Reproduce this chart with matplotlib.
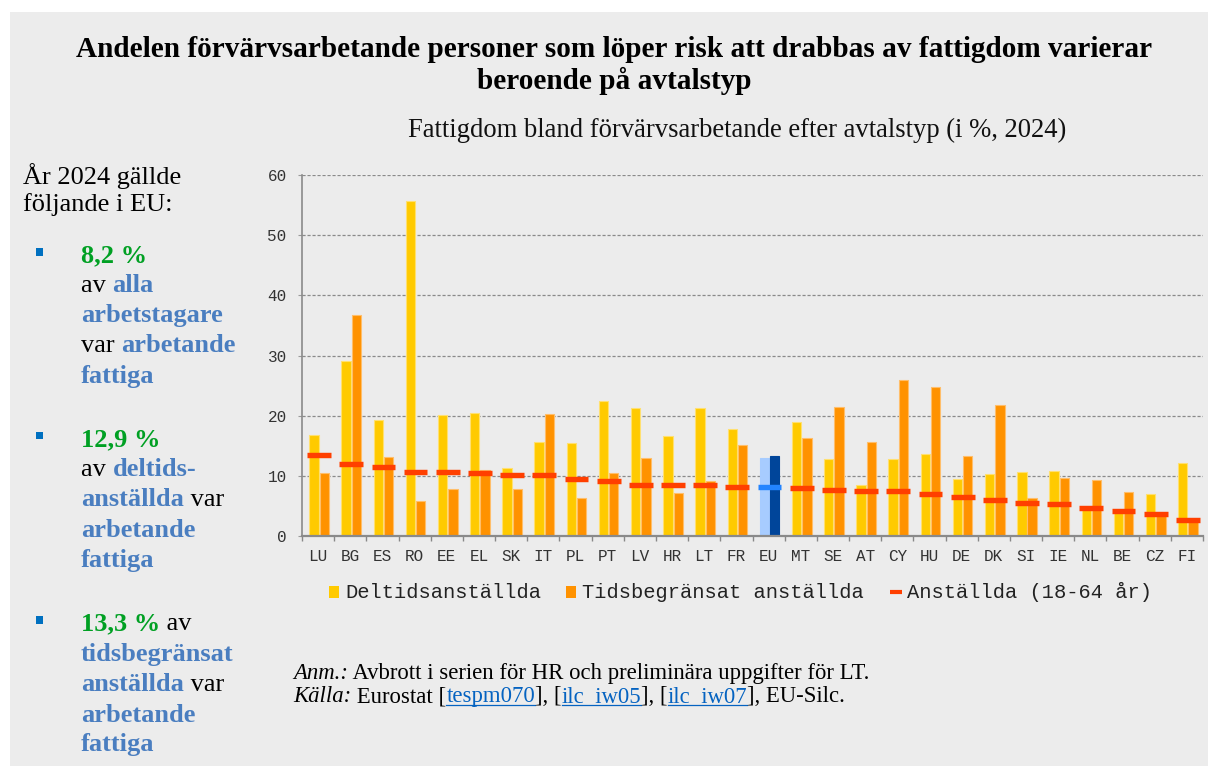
import matplotlib
matplotlib.use("Agg")
import matplotlib.pyplot as plt
import numpy as np
from matplotlib.patches import Rectangle
from matplotlib.lines import Line2D

# ---------------- data ----------------
countries = ["LU", "BG", "ES", "RO", "EE", "EL", "SK", "IT", "PL", "PT", "LV", "HR", "LT", "FR",
             "EU", "MT", "SE", "AT", "CY", "HU", "DE", "DK", "SI", "IE", "NL", "BE", "CZ", "FI"]
part_time = [16.8, 29.1, 19.2, 55.6, 20.1, 20.4, 11.3, 15.7, 15.5, 22.4, 21.2, 16.6, 21.2, 17.8,
             12.9, 19.0, 12.8, 8.4, 12.8, 13.7, 9.4, 10.3, 10.6, 10.8, 4.5, 4.2, 6.9, 12.1]
temporary = [10.5, 36.8, 13.2, 5.8, 7.8, 10.9, 7.8, 20.3, 6.3, 10.4, 12.9, 7.1, 9.2, 15.1,
             13.3, 16.3, 21.4, 15.7, 26.0, 24.7, 13.3, 21.8, 6.3, 9.6, 9.3, 7.3, 3.6, 2.7]
employed = [13.5, 12.0, 11.4, 10.7, 10.7, 10.4, 10.2, 10.2, 9.4, 9.2, 8.4, 8.4, 8.4, 8.2,
            8.2, 7.9, 7.7, 7.5, 7.4, 6.9, 6.5, 6.0, 5.5, 5.4, 4.6, 4.2, 3.7, 2.7]
yticks = [0, 10, 20, 30, 40, 50, 60]
legend_labels = ["Deltidsanställda", "Tidsbegränsat anställda", "Anställda (18-64 år)"]

title_lines = ["Andelen förvärvsarbetande personer som löper risk att drabbas av fattigdom varierar",
               "beroende på avtalstyp"]
subtitle = "Fattigdom bland förvärvsarbetande efter avtalstyp (i %, 2024)"

# ---------------- style ----------------
W, H = 1208, 766
BG = "#ECECEC"
YEL, YEL_E = "#FFCA00", "#FFE070"
ORA, ORA_E = "#FF9200", "#FFBE6A"
RED = "#FF3F00"
EU_L, EU_D, EU_LINE = "#A7CCFF", "#00459A", "#2384FF"
BLUE_TXT = "#4A7EC0"
GREEN_TXT = "#00A023"
SERIF = ["Liberation Serif", "DejaVu Serif"]
MONO = ["Liberation Mono", "DejaVu Sans Mono"]

fig = plt.figure(figsize=(W / 100, H / 100), dpi=100, facecolor="white")
fig.add_artist(Rectangle((10 / W, 0), 1, 1 - 12 / H, transform=fig.transFigure,
                         facecolor=BG, edgecolor="none", zorder=-10))


def fx(px):
    return px / W


def fy(py):
    return 1 - py / H


# ---------------- axes ----------------
ax = fig.add_axes([fx(302), fy(536), (1203 - 302) / W, (536 - 175) / H])
ax.set_facecolor("none")
x = np.arange(len(countries))
bw = 0.29
yel_c = [EU_L if c == "EU" else YEL for c in countries]
yel_e = [EU_L if c == "EU" else YEL_E for c in countries]
ora_c = [EU_D if c == "EU" else ORA for c in countries]
ora_e = [EU_D if c == "EU" else ORA_E for c in countries]
ax.bar(x - 0.13, part_time, width=bw, color=yel_c, edgecolor=yel_e, linewidth=0.8, zorder=3)
ax.bar(x + 0.19, temporary, width=bw, color=ora_c, edgecolor=ora_e, linewidth=0.8, zorder=3)
line_c = [EU_LINE if c == "EU" else RED for c in countries]
ax.hlines(employed, x + 0.03 - 0.37, x + 0.03 + 0.37, colors=line_c, linewidth=3.9,
          zorder=4, capstyle="butt")

ax.set_xlim(-0.5, len(countries) - 0.5)
ax.set_ylim(0, 60)
ax.set_yticks(yticks)
ax.set_xticks(x)
ax.set_xticklabels(countries)
ax.set_xticks(np.arange(len(countries) + 1) - 0.5, minor=True)
ax.tick_params(axis="x", which="major", length=0, pad=9.5, labelsize=11.5, labelcolor="#333333")
ax.tick_params(axis="x", which="minor", length=3.5, width=1, color="#888888")
ax.tick_params(axis="y", length=3, width=0.8, color="#999999", pad=8, labelsize=11.5,
               labelcolor="#333333")
for lab in ax.get_xticklabels() + ax.get_yticklabels():
    lab.set_family(MONO)
ax.grid(axis="y", color="#8a8a8a", linestyle=(0, (2.5, 1.5)), linewidth=0.9, zorder=1)
ax.set_axisbelow(True)
for s in ["top", "right"]:
    ax.spines[s].set_visible(False)
ax.spines["left"].set_color("#8a8a8a")
ax.spines["left"].set_linewidth(1.2)
ax.spines["bottom"].set_color("#8a8a8a")
ax.spines["bottom"].set_linewidth(1.6)
ax.spines["bottom"].set_zorder(5)

# ---------------- titles ----------------
fig.text(fx(614), fy(57), title_lines[0], ha="center", va="baseline", family=SERIF,
         weight="bold", size=21.1, color="black")
fig.text(fx(614), fy(89), title_lines[1], ha="center", va="baseline", family=SERIF,
         weight="bold", size=21.1, color="black")
fig.text(fx(737), fy(137), subtitle, ha="center", va="baseline", family=SERIF,
         size=19.2, color="#111111")

# ---------------- legend (manual) ----------------
fig.add_artist(Rectangle((fx(329), fy(598)), 10 / W, 12 / H, transform=fig.transFigure,
                         facecolor=YEL, edgecolor="none"))
fig.text(fx(345), fy(598), legend_labels[0], family=MONO, size=14.7, color="#222222",
         va="baseline")
fig.add_artist(Rectangle((fx(566), fy(598)), 10 / W, 12 / H, transform=fig.transFigure,
                         facecolor=ORA, edgecolor="none"))
fig.text(fx(582), fy(598), legend_labels[1], family=MONO, size=14.7, color="#222222",
         va="baseline")
fig.add_artist(Line2D([fx(890), fx(902)], [fy(592), fy(592)], transform=fig.transFigure,
                      color=RED, linewidth=3, solid_capstyle="butt"))
fig.text(fx(907), fy(598), legend_labels[2], family=MONO, size=14.7, color="#222222",
         va="baseline")

# ---------------- mixed-style text helper ----------------
renderer = fig.canvas.get_renderer()


def runs(x0, base, pieces, size):
    xx = x0
    for p in pieces:
        txt, color, weight, style, under = p
        t = fig.text(fx(xx), fy(base), txt, family=SERIF, size=size, color=color,
                     weight=weight, style=style, va="baseline", ha="left")
        bb = t.get_window_extent(renderer)
        if under:
            fig.add_artist(Line2D([fx(xx), fx(xx + bb.width)], [fy(base + 2.5), fy(base + 2.5)],
                                  transform=fig.transFigure, color=color, linewidth=0.9))
        xx += bb.width


K = "black"
N, B = "normal", "bold"
R, I = "normal", "italic"

# left panel
LS = 19
runs(23, 184, [("År 2024 gällde", K, N, R, False)], LS)
runs(23, 211, [("följande i EU:", K, N, R, False)], LS)
for yb in [252, 436, 620]:
    fig.add_artist(Rectangle((fx(35.5), fy(yb + 3.5)), 7.5 / W, 7.5 / H,
                             transform=fig.transFigure, facecolor="#0070C0", edgecolor="none"))
X2 = 81
runs(X2, 262, [("8,2 %", GREEN_TXT, B, R, False)], LS)
runs(X2, 292, [("av ", K, N, R, False), ("alla", BLUE_TXT, B, R, False)], LS)
runs(X2, 322, [("arbetstagare", BLUE_TXT, B, R, False)], LS)
runs(X2, 352, [("var ", K, N, R, False), ("arbetande", BLUE_TXT, B, R, False)], LS)
runs(X2, 383, [("fattiga", BLUE_TXT, B, R, False)], LS)

runs(X2, 446, [("12,9 %", GREEN_TXT, B, R, False)], LS)
runs(X2, 476, [("av ", K, N, R, False), ("deltids-", BLUE_TXT, B, R, False)], LS)
runs(X2, 506, [("anställda", BLUE_TXT, B, R, False), (" var", K, N, R, False)], LS)
runs(X2, 537, [("arbetande", BLUE_TXT, B, R, False)], LS)
runs(X2, 567, [("fattiga", BLUE_TXT, B, R, False)], LS)

runs(X2, 630, [("13,3 %", GREEN_TXT, B, R, False), (" av", K, N, R, False)], LS)
runs(X2, 661, [("tidsbegränsat", BLUE_TXT, B, R, False)], LS)
runs(X2, 691, [("anställda", BLUE_TXT, B, R, False), (" var", K, N, R, False)], LS)
runs(X2, 722, [("arbetande", BLUE_TXT, B, R, False)], LS)
runs(X2, 751, [("fattiga", BLUE_TXT, B, R, False)], LS)

# footnote
LINK = "#0563C1"
FS = 16.4
runs(293, 679, [("Anm.:", K, N, I, False),
                (" Avbrott i serien för HR och preliminära uppgifter för LT.", K, N, R, False)], FS)
runs(293, 702, [("Källa:", K, N, I, False), (" Eurostat [", K, N, R, False),
                ("tespm070", LINK, N, R, True), ("], [", K, N, R, False),
                ("ilc_iw05", LINK, N, R, True), ("], [", K, N, R, False),
                ("ilc_iw07", LINK, N, R, True), ("], EU-Silc.", K, N, R, False)], FS)

fig.savefig("out.png", dpi=100, facecolor="white")
